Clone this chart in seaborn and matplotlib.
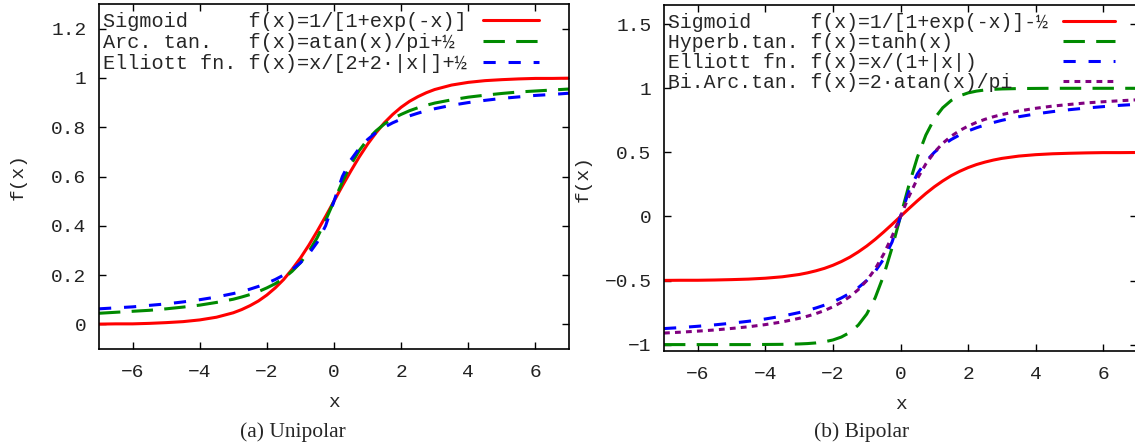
from matplotlib import pyplot as plt
from matplotlib.ticker import FuncFormatter, MultipleLocator
import seaborn as sns
import pandas as pd

# sample points
x_vals = [-7, -6.5, -6, -5.5, -5, -4.5, -4, -3.5, -3, -2.75, -2.5, -2.25, -2, -1.75, -1.5, -1.25, -1, -0.75, -0.5, -0.25,
          0, 0.25, 0.5, 0.75, 1, 1.25, 1.5, 1.75, 2, 2.25, 2.5, 2.75, 3, 3.5, 4, 4.5, 5, 5.5, 6, 6.5, 7]

# (a) unipolar
sigmoid_uni = [0.001, 0.002, 0.002, 0.004, 0.007, 0.011, 0.018, 0.029, 0.047, 0.060, 0.076, 0.095, 0.119, 0.148, 0.182, 0.223, 0.269, 0.321, 0.378, 0.438,
               0.500, 0.562, 0.622, 0.679, 0.731, 0.777, 0.818, 0.852, 0.881, 0.905, 0.924, 0.940, 0.953, 0.971, 0.982, 0.989, 0.993, 0.996, 0.998, 0.998, 0.999]
arctan_uni = [0.045, 0.049, 0.053, 0.057, 0.063, 0.070, 0.078, 0.089, 0.102, 0.111, 0.121, 0.133, 0.148, 0.165, 0.187, 0.215, 0.250, 0.295, 0.352, 0.422,
              0.500, 0.578, 0.648, 0.705, 0.750, 0.785, 0.813, 0.835, 0.852, 0.867, 0.879, 0.889, 0.898, 0.911, 0.922, 0.930, 0.937, 0.943, 0.947, 0.951, 0.955]
elliott_uni = [0.063, 0.067, 0.071, 0.077, 0.083, 0.091, 0.100, 0.111, 0.125, 0.133, 0.143, 0.154, 0.167, 0.182, 0.200, 0.222, 0.250, 0.286, 0.333, 0.400,
               0.500, 0.600, 0.667, 0.714, 0.750, 0.778, 0.800, 0.818, 0.833, 0.846, 0.857, 0.867, 0.875, 0.889, 0.900, 0.909, 0.917, 0.923, 0.929, 0.933, 0.938]

# (b) bipolar
sigmoid_bi = [-0.499, -0.498, -0.498, -0.496, -0.493, -0.489, -0.482, -0.471, -0.453, -0.440, -0.424, -0.405, -0.381, -0.352, -0.318, -0.277, -0.231, -0.179, -0.122, -0.062,
              0.000, 0.062, 0.122, 0.179, 0.231, 0.277, 0.318, 0.352, 0.381, 0.405, 0.424, 0.440, 0.453, 0.471, 0.482, 0.489, 0.493, 0.496, 0.498, 0.498, 0.499]
tanh_bi = [-1.000, -1.000, -1.000, -1.000, -1.000, -1.000, -0.999, -0.998, -0.995, -0.992, -0.987, -0.978, -0.964, -0.941, -0.905, -0.848, -0.762, -0.635, -0.462, -0.245,
           0.000, 0.245, 0.462, 0.635, 0.762, 0.848, 0.905, 0.941, 0.964, 0.978, 0.987, 0.992, 0.995, 0.998, 0.999, 1.000, 1.000, 1.000, 1.000, 1.000, 1.000]
elliott_bi = [-0.875, -0.867, -0.857, -0.846, -0.833, -0.818, -0.800, -0.778, -0.750, -0.733, -0.714, -0.692, -0.667, -0.636, -0.600, -0.556, -0.500, -0.429, -0.333, -0.200,
              0.000, 0.200, 0.333, 0.429, 0.500, 0.556, 0.600, 0.636, 0.667, 0.692, 0.714, 0.733, 0.750, 0.778, 0.800, 0.818, 0.833, 0.846, 0.857, 0.867, 0.875]
biarctan_bi = [-0.910, -0.903, -0.895, -0.886, -0.874, -0.861, -0.844, -0.823, -0.795, -0.778, -0.758, -0.734, -0.705, -0.670, -0.626, -0.571, -0.500, -0.410, -0.295, -0.156,
               0.000, 0.156, 0.295, 0.410, 0.500, 0.571, 0.626, 0.670, 0.705, 0.734, 0.758, 0.778, 0.795, 0.823, 0.844, 0.861, 0.874, 0.886, 0.895, 0.903, 0.910]

labels_uni = ["Sigmoid     f(x)=1/[1+exp(-x)]",
              "Arc. tan.   f(x)=atan(x)/pi+½ ",
              "Elliott fn. f(x)=x/[2+2·|x|]+½"]
labels_bi = ["Sigmoid     f(x)=1/[1+exp(-x)]-½",
             "Hyperb.tan. f(x)=tanh(x)        ",
             "Elliott fn. f(x)=x/(1+|x|)      ",
             "Bi.Arc.tan. f(x)=2·atan(x)/pi   "]

colors = ["#ff0000", "#008a00", "#0000ff", "#800080"]
dash_styles = ["", (7, 3.7), (4, 4.2), (1.9, 1.7)]

sns.set_style("ticks")
plt.rcParams["font.family"] = ["Liberation Mono", "DejaVu Sans Mono"]
plt.rcParams["axes.unicode_minus"] = True

fig = plt.figure(figsize=(11.35, 4.46), dpi=100)
ax1 = fig.add_axes([99 / 1135, 97 / 446, 470 / 1135, 345 / 446])
ax2 = fig.add_axes([664 / 1135, 95 / 446, 473 / 1135, 346 / 446])

panels = [
    (ax1, labels_uni, [sigmoid_uni, arctan_uni, elliott_uni], (-0.1, 1.3), 0.2, 14.6, 2.75, 0.8, 0.08),
    (ax2, labels_bi, [sigmoid_bi, tanh_bi, elliott_bi, biarctan_bi], (-1.05, 1.65), 0.5, 14.2, 2.65, 0.75, 0.04),
]

fmt = FuncFormatter(lambda v, p: f"{v:g}".replace("-", "\u2212"))

for ax, labels, series, ylim, ystep, key_size, hlen, hpad, lspace in panels:
    frames = []
    for lab, ys in zip(labels, series):
        frames.append(pd.DataFrame({"x": x_vals, "y": ys, "fn": lab}))
    df = pd.concat(frames, ignore_index=True)
    n = len(labels)
    sns.lineplot(data=df, x="x", y="y", hue="fn", style="fn", hue_order=labels, style_order=labels,
                 palette=dict(zip(labels, colors[:n])), dashes=dict(zip(labels, dash_styles[:n])),
                 linewidth=2.2, estimator=None, sort=False, legend=False, ax=ax)
    ax.set_xlim(-7, 7)
    ax.set_ylim(*ylim)
    ax.xaxis.set_major_locator(MultipleLocator(2))
    ax.yaxis.set_major_locator(MultipleLocator(ystep))
    ax.xaxis.set_major_formatter(fmt)
    ax.yaxis.set_major_formatter(fmt)
    ax.tick_params(direction="in", length=5, width=1, top=True, right=True,
                   labelsize=14, colors="black", labelcolor="#222222", pad=9)
    ax.tick_params(axis="x", pad=11)
    for s in ax.spines.values():
        s.set_visible(True)
        s.set_linewidth(1.2)
        s.set_color("black")
    ax.set_xlabel("x", fontsize=14, va="center")
    ax.set_ylabel("f(x)", fontsize=14, va="center")
    ax.xaxis.set_label_coords(0.5, -0.155)
    ax.yaxis.set_label_coords(-0.172, 0.5)
    ax.legend(ax.get_lines(), labels, loc="upper left", bbox_to_anchor=(0, 1 - 4 / 345), borderaxespad=0,
              borderpad=0.22, frameon=False, markerfirst=False, handlelength=hlen, handletextpad=hpad,
              labelspacing=lspace, prop={"family": "Liberation Mono", "size": key_size})

fig.text(293 / 1135, 0.031, "(a) Unipolar", ha="center", va="center", fontsize=15.5, family="Liberation Serif")
fig.text(862 / 1135, 0.031, "(b) Bipolar", ha="center", va="center", fontsize=15.5, family="Liberation Serif")

fig.savefig("out.png", dpi=100)
